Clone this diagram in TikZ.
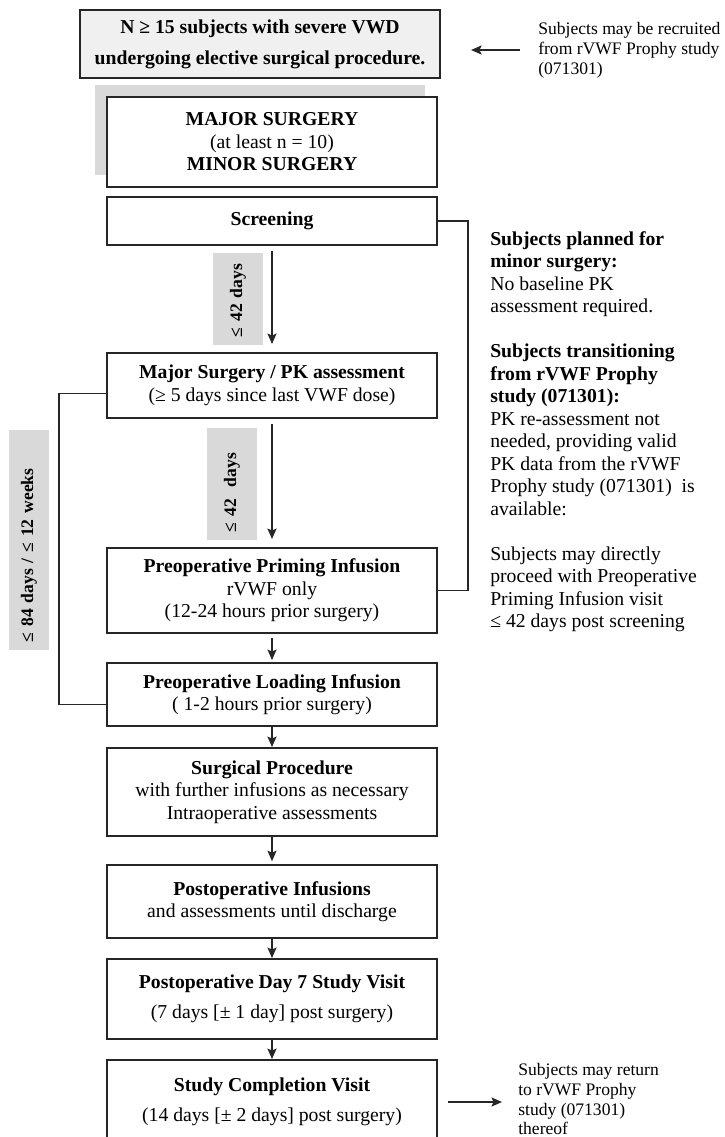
\documentclass[tikz,border=0pt]{standalone}
\usepackage{fontspec}
\setmainfont{Liberation Serif}
\usetikzlibrary{arrows.meta}

\tikzset{
  stepbox/.style={draw=black!85, line width=1.4pt, fill=white, align=center,
    minimum width=8.25cm, inner sep=2pt, font=\fontsize{14}{16}\selectfont},
  daylabel/.style={fill=gray!30, rotate=90, align=left, inner xsep=0.2cm, inner ysep=0pt,
    font=\bfseries\fontsize{12.5}{14}\selectfont},
  sidenote/.style={align=left, inner sep=0pt, font=\fontsize{14}{16}\selectfont},
  smallnote/.style={align=left, inner sep=0pt, font=\fontsize{12.5}{14.2}\selectfont},
  link/.style={line width=0.9pt, draw=black!85},
}

\begin{document}
\begin{tikzpicture}[>={Stealth[length=7.5pt,width=6.5pt,inset=1.5pt]}, x=0.025cm, y=-0.025cm]
\useasboundingbox (0,0) rectangle (724,1137);

% Arruolamento
\node[stepbox, fill=gray!12, minimum width=9cm, minimum height=1.7cm] (arruol) at (260,44)
  {\textbf{N ≥ 15 subjects with severe VWD}\\[6pt]\textbf{undergoing elective surgical procedure.}};
\node[smallnote, anchor=west] (recruit) at (538,50)
  {Subjects may be recruited\\from rVWF Prophy study\\(071301)};
\draw[link, ->, shorten <=0.45cm, shorten >=0.75cm] (recruit.west) -- (recruit.west -| arruol.east);

% Tipo di chirurgia (con ombra)
\fill[gray!30] (95,85) rectangle (425,175);
\node[stepbox, minimum height=2.25cm] (tipo) at (272,142)
  {\textbf{MAJOR SURGERY}\\(at least n = 10)\\\textbf{MINOR SURGERY}};

% Visite
\node[stepbox, minimum height=1.2cm] (screen) at (272,221) {\textbf{Screening}};
\node[stepbox, minimum height=1.625cm] (pk) at (272,385.5)
  {\textbf{Major Surgery / PK assessment}\\(≥ 5 days since last VWF dose)};
\node[stepbox, minimum height=2.125cm] (prime) at (272,590.5)
  {\textbf{Preoperative Priming Infusion}\\rVWF only\\(12-24 hours prior surgery)};
\node[stepbox, minimum height=1.575cm] (load) at (272,694.5)
  {\textbf{Preoperative Loading Infusion}\\( 1-2 hours prior surgery)};
\node[stepbox, minimum height=2.2cm] (surg) at (272,792)
  {\textbf{Surgical Procedure}\\with further infusions as necessary\\Intraoperative assessments};
\node[stepbox, minimum height=1.825cm] (postinf) at (272,901.5)
  {\textbf{Postoperative Infusions}\\and assessments until discharge};
\node[stepbox, minimum height=2cm] (day7) at (272,999)
  {\textbf{Postoperative Day 7 Study Visit}\\[5pt](7 days [± 1 day] post surgery)};
\node[stepbox, minimum height=2.1cm] (compl) at (272,1102)
  {\textbf{Study Completion Visit}\\[5pt](14 days [± 2 days] post surgery)};

% Finestre temporali
\node[daylabel, text width=1.9cm, minimum height=1.25cm] (win1) at (238,299) {≤ 42 days};
\node[daylabel, text width=2.4cm, minimum height=1.25cm] (win2) at (232,484) {≤ 42~ days};
\node[daylabel, text width=5.1cm, minimum height=1cm] (win3) at (29,540) {≤ 84 days / ≤ 12 weeks};

% Frecce
\draw[link, ->, shorten <=0.12cm, shorten >=0.2cm] (screen) -- (pk);
\draw[link, ->, shorten <=0.12cm, shorten >=0.2cm] (pk) -- (prime);
\draw[link, ->, shorten <=0.1cm, shorten >=0.05cm] (prime) -- (load);
\draw[link, ->] (load) -- (surg);
\draw[link, ->, shorten >=0.07cm] (surg) -- (postinf);
\draw[link, ->] (postinf) -- (day7);
\draw[link, ->] (day7) -- (compl);

% Collegamenti laterali
\draw[link] (screen.east) -- ++(30,0) |- (prime.east);
\draw[link] ([yshift=-0.2cm]pk.west) -- ++(-47,0) |- ([yshift=-0.25cm]load.west);

% Note a destra
\node[sidenote, anchor=north west] (note) at (490,231)
  {\textbf{Subjects planned for}\\
   \textbf{minor surgery:}\\
   No baseline PK\\
   assessment required.\\[16pt]
   \textbf{Subjects transitioning}\\
   \textbf{from rVWF Prophy}\\
   \textbf{study (071301):}\\
   PK re-assessment not\\
   needed, providing valid\\
   PK data from the rVWF\\
   Prophy study (071301)~ is\\
   available:\\[16pt]
   Subjects may directly\\
   proceed with Preoperative\\
   Priming Infusion visit\\
   ≤ 42 days post screening};

\node[smallnote, anchor=west] (ritorno) at (518,1099)
  {Subjects may return\\to rVWF Prophy\\study (071301)\\thereof};
\draw[link, ->, shorten <=0.25cm, shorten >=0.4cm] (compl.east) -- (compl.east -| ritorno.west);

\end{tikzpicture}
\end{document}
